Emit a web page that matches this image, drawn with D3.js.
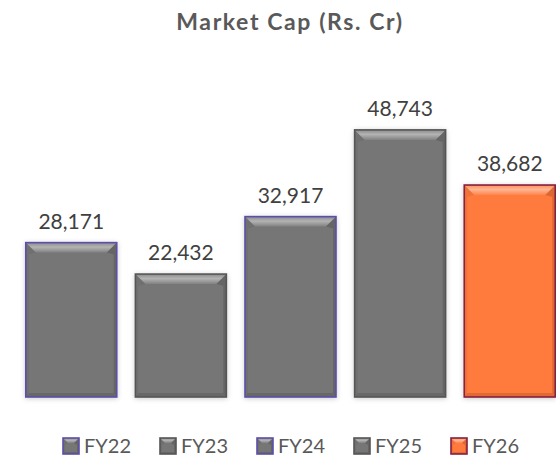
<!DOCTYPE html>
<html>
<head>
<meta charset="utf-8">
<script src="https://cdn.jsdelivr.net/npm/d3@7"></script>
<style>
  body { margin: 0; background: #fff; }
  text { font-family: Lato, "Open Sans", sans-serif; }
</style>
</head>
<body>
<div id="chart"></div>
<script>
// set the dimensions
var width = 556,
    height = 462

// data
var years = ["FY22", "FY23", "FY24", "FY25", "FY26"]
var marketCap = [28171, 22432, 32917, 48743, 38682]
var fills = ["#767676", "#767676", "#767676", "#767676", "#ff7a3c"]
var borders = ["#5b4fa8", "#555555", "#5b4fa8", "#555555", "#86203f"]

var svg = d3.select("#chart")
  .append("svg")
    .attr("width", width)
    .attr("height", height)

var defs = svg.append("defs")
var shadow = defs.append("filter").attr("id", "shadow")
  .attr("x", "-10%").attr("y", "-10%").attr("width", "120%").attr("height", "120%")
shadow.append("feDropShadow")
  .attr("dx", 0).attr("dy", 1).attr("stdDeviation", 2.5)
  .attr("flood-color", "#000").attr("flood-opacity", 0.2)

// top highlight gradient
var topGrad = defs.append("linearGradient").attr("id", "topGrad")
  .attr("x1", 0).attr("y1", 0).attr("x2", 0).attr("y2", 1)
topGrad.append("stop").attr("offset", "0%").attr("stop-color", "#fff").attr("stop-opacity", 0.15)
topGrad.append("stop").attr("offset", "45%").attr("stop-color", "#fff").attr("stop-opacity", 0.45)
topGrad.append("stop").attr("offset", "100%").attr("stop-color", "#fff").attr("stop-opacity", 0.08)

// scales
var x = d3.scaleBand()
  .domain(years)
  .range([17, 564])
  .paddingInner(0.17)
  .paddingOuter(0.08)

var y = d3.scaleLinear()
  .domain([0, 50000])
  .range([397, 123])

// title
svg.append("text")
  .attr("x", 290)
  .attr("y", 30)
  .attr("text-anchor", "middle")
  .attr("fill", "#595959")
  .style("font-size", "23px")
  .style("font-weight", "bold")
  .style("letter-spacing", "1.6px")
  .text("Market Cap (Rs. Cr)")

// draw a bevelled box
function bevel(g, x0, y0, w, h, fill, border, t) {
  var ts = Math.min(t, h / 2)
  var side = Math.max(2, t * 0.3)
  var bot = Math.max(2, t * 0.4)
  g.append("rect")
    .attr("x", x0).attr("y", y0).attr("width", w).attr("height", h)
    .attr("fill", fill)
  // top
  g.append("polygon")
    .attr("points", [[x0, y0], [x0 + w, y0], [x0 + w - ts, y0 + ts], [x0 + ts, y0 + ts]].join(" "))
    .attr("fill", "url(#topGrad)")
  // left
  g.append("polygon")
    .attr("points", [[x0, y0], [x0 + ts, y0 + ts], [x0 + side, y0 + ts + 2], [x0 + side, y0 + h - bot], [x0, y0 + h]].join(" "))
    .attr("fill", "#000").attr("fill-opacity", 0.06)
  // right
  g.append("polygon")
    .attr("points", [[x0 + w, y0], [x0 + w - ts, y0 + ts], [x0 + w - side, y0 + ts + 2], [x0 + w - side, y0 + h - bot], [x0 + w, y0 + h]].join(" "))
    .attr("fill", "#000").attr("fill-opacity", 0.14)
  // bottom
  g.append("polygon")
    .attr("points", [[x0, y0 + h], [x0 + side, y0 + h - bot], [x0 + w - side, y0 + h - bot], [x0 + w, y0 + h]].join(" "))
    .attr("fill", "#000").attr("fill-opacity", 0.12)
  g.append("rect")
    .attr("x", x0).attr("y", y0).attr("width", w).attr("height", h)
    .attr("fill", "none")
    .attr("stroke", border)
    .attr("stroke-width", 1.6)
}

// bars
var bars = svg.selectAll("g.bar")
  .data(years)
  .enter()
  .append("g")
    .attr("class", "bar")
    .attr("filter", "url(#shadow)")

bars.each(function(d, i) {
  bevel(d3.select(this), x(d), y(marketCap[i]), x.bandwidth(), y(0) - y(marketCap[i]), fills[i], borders[i], 10)
})

// labels
svg.selectAll("text.label")
  .data(years)
  .enter()
  .append("text")
    .attr("class", "label")
    .attr("x", function(d) { return x(d) + x.bandwidth() / 2 })
    .attr("y", function(d, i) { return y(marketCap[i]) - 14 })
    .attr("text-anchor", "middle")
    .attr("fill", "#404040")
    .style("font-size", "21px")
    .text(function(d, i) { return d3.format(",")(marketCap[i]) })

// legend
var legend = svg.selectAll("g.legend")
  .data(years)
  .enter()
  .append("g")
    .attr("class", "legend")
    .attr("transform", function(d, i) { return "translate(" + (63 + i * 97) + ",438)" })

legend.each(function(d, i) {
  bevel(d3.select(this), 0, 0, 16, 16, fills[i], borders[i], 5)
})

legend.append("text")
  .attr("x", 21)
  .attr("y", 15)
  .attr("fill", "#595959")
  .style("font-size", "20px")
  .text(function(d) { return d })
</script>
</body>
</html>
